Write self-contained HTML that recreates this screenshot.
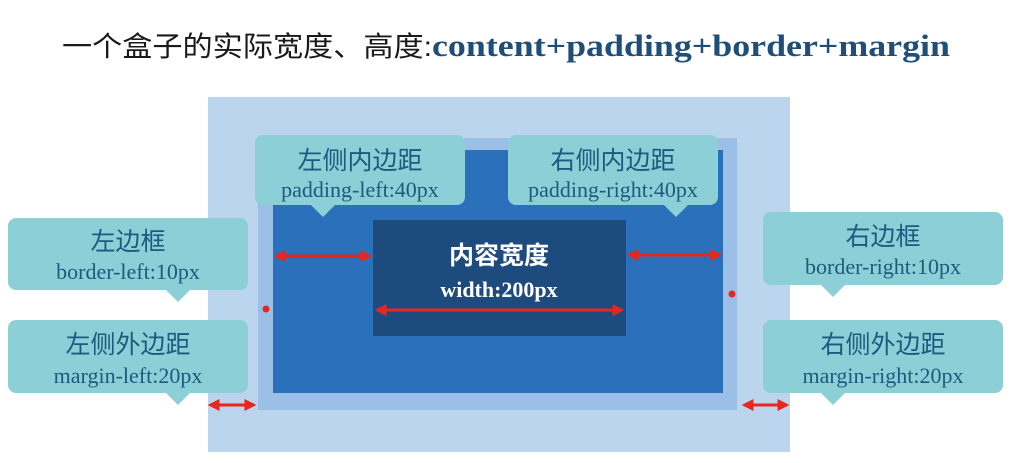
<!DOCTYPE html>
<html><head><meta charset="utf-8"><style>
html,body{margin:0;padding:0;background:#fff;width:1020px;height:463px;overflow:hidden}
svg{display:block}
.cn{font-family:"Liberation Sans","Noto Sans CJK SC",sans-serif}
.sf{font-family:"Liberation Serif","Noto Serif CJK SC",serif}
</style></head><body>
<svg width="1020" height="463" viewBox="0 0 1020 463" xmlns="http://www.w3.org/2000/svg">
<defs>
<marker id="a" viewBox="0 0 10 10" refX="8" refY="5" markerWidth="4" markerHeight="4" orient="auto-start-reverse"><path d="M0,0L10,5L0,10z" fill="#e8261c"/></marker>
</defs>
<text x="62" y="56" class="cn" font-size="28" fill="#1a1a1a" textLength="370" lengthAdjust="spacingAndGlyphs">一个盒子的实际宽度、高度:</text>
<text x="432" y="56" class="sf" font-size="31" font-weight="bold" fill="#1f4e79" textLength="518" lengthAdjust="spacingAndGlyphs">content+padding+border+margin</text>

<rect x="208" y="97" width="582" height="355" fill="#bcd5ef"/>
<rect x="258" y="138" width="479" height="272" fill="#9bbfe6"/>
<rect x="273" y="150" width="450" height="243" fill="#2a70bb"/>
<rect x="373" y="220" width="253" height="116" fill="#1e4b7d"/>
<text x="499" y="264" text-anchor="middle" class="cn" font-size="25" font-weight="bold" fill="#fff">内容宽度</text>
<text x="499" y="297" text-anchor="middle" class="sf" font-size="22" font-weight="bold" fill="#fff">width:200px</text>

<g fill="#8ccfd6">
<path d="M263,135h194a8,8 0 0 1 8,8v54a8,8 0 0 1 -8,8h-122l-12,12l-12,-12h-48a8,8 0 0 1 -8,-8v-54a8,8 0 0 1 8,-8z"/>
<path d="M516,135h194a8,8 0 0 1 8,8v54a8,8 0 0 1 -8,8h-22l-12,12l-12,-12h-148a8,8 0 0 1 -8,-8v-54a8,8 0 0 1 8,-8z"/>
<path d="M16,218h224a8,8 0 0 1 8,8v56a8,8 0 0 1 -8,8h-50l-12,12l-12,-12h-150a8,8 0 0 1 -8,-8v-56a8,8 0 0 1 8,-8z"/>
<path d="M16,320h224a8,8 0 0 1 8,8v57a8,8 0 0 1 -8,8h-50l-12,12l-12,-12h-150a8,8 0 0 1 -8,-8v-57a8,8 0 0 1 8,-8z"/>
<path d="M771,212h224a8,8 0 0 1 8,8v57a8,8 0 0 1 -8,8h-150l-12,12l-12,-12h-50a8,8 0 0 1 -8,-8v-57a8,8 0 0 1 8,-8z"/>
<path d="M771,320h224a8,8 0 0 1 8,8v57a8,8 0 0 1 -8,8h-150l-12,12l-12,-12h-50a8,8 0 0 1 -8,-8v-57a8,8 0 0 1 8,-8z"/>
</g>
<g class="cn" font-size="25" fill="#1e5a7f" text-anchor="middle">
<text x="360" y="169">左侧内边距</text>
<text x="613" y="169">右侧内边距</text>
<text x="128" y="250">左边框</text>
<text x="128" y="353">左侧外边距</text>
<text x="883" y="245">右边框</text>
<text x="883" y="353">右侧外边距</text>
</g>
<g class="sf" font-size="22" fill="#1e5a7f" text-anchor="middle">
<text x="360" y="197">padding-left:40px</text>
<text x="613" y="197">padding-right:40px</text>
<text x="128" y="279">border-left:10px</text>
<text x="128" y="383">margin-left:20px</text>
<text x="883" y="274">border-right:10px</text>
<text x="883" y="383">margin-right:20px</text>
</g>
<g stroke="#e8261c" stroke-width="3" marker-start="url(#a)" marker-end="url(#a)">
<line x1="276" y1="256" x2="370" y2="256"/>
<line x1="629" y1="255" x2="720" y2="255"/>
<line x1="377" y1="310" x2="622" y2="310"/>
<line x1="210" y1="405" x2="254" y2="405"/>
<line x1="744" y1="405" x2="787" y2="405"/>
</g>
<circle cx="266" cy="309" r="3.5" fill="#e8261c"/>
<circle cx="732" cy="294" r="3.5" fill="#e8261c"/>
</svg>
</body></html>
